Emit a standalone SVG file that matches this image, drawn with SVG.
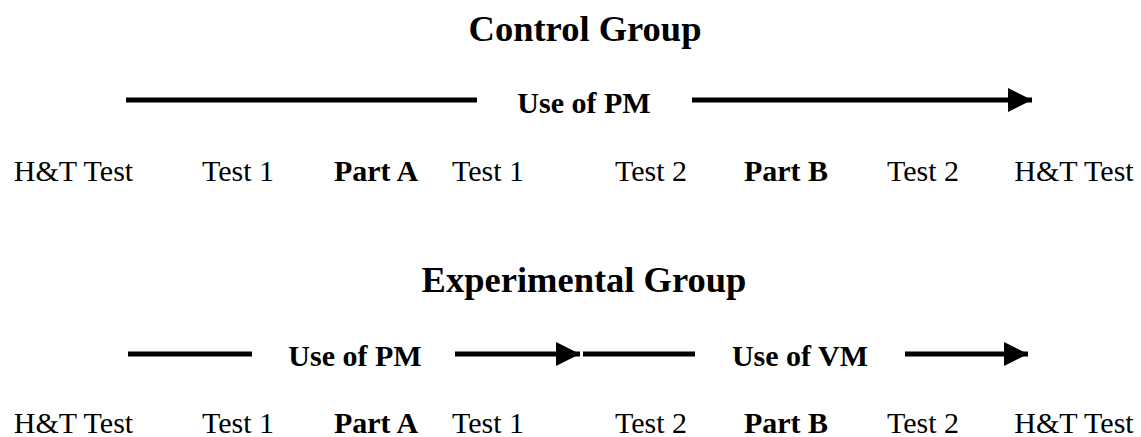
<svg xmlns="http://www.w3.org/2000/svg" width="1141" height="437" viewBox="0 0 1141 437">
<defs>
<style>
text{font-family:"Liberation Serif","Times New Roman",serif;fill:#000}
.title{font-size:36.5px;font-weight:bold;text-anchor:middle}
.lbl{font-size:30px;text-anchor:middle}
.b{font-weight:bold}
.use{font-size:30px;font-weight:bold;text-anchor:middle}
.ln{stroke:#000;stroke-width:5;fill:none}
</style>
<marker id="ah" viewBox="0 0 24 24" refX="24" refY="12" markerWidth="24" markerHeight="24" markerUnits="userSpaceOnUse" orient="auto">
<path d="M0,0 L24,12 L0,24 Z" fill="#000"/>
</marker>
</defs>
<rect width="1141" height="437" fill="#fff"/>
<g id="control-title"><text class="title" x="585" y="41">Control Group</text></g>
<g id="experimental-title"><text class="title" x="584" y="292">Experimental Group</text></g>
<g id="connectors">
<line class="ln" x1="126" y1="100" x2="477" y2="100"/>
<line class="ln" x1="692" y1="100" x2="1032" y2="100" marker-end="url(#ah)"/>
<line class="ln" x1="128" y1="354" x2="252" y2="354"/>
<line class="ln" x1="455" y1="354" x2="580" y2="354" marker-end="url(#ah)"/>
<line class="ln" x1="583" y1="354" x2="695" y2="354"/>
<line class="ln" x1="905" y1="354" x2="1028" y2="354" marker-end="url(#ah)"/>
</g>
<g id="use-pm-control"><text class="use" x="584" y="113">Use of PM</text></g>
<g id="use-pm-exp"><text class="use" x="355" y="366">Use of PM</text></g>
<g id="use-vm-exp"><text class="use" x="800" y="366">Use of VM</text></g>
<g id="control-row">
<text class="lbl" x="73.5" y="181">H&amp;T Test</text>
<text class="lbl" x="238" y="181">Test 1</text>
<text class="lbl b" x="376" y="181">Part A</text>
<text class="lbl" x="488" y="181">Test 1</text>
<text class="lbl" x="651" y="181">Test 2</text>
<text class="lbl b" x="786" y="181">Part B</text>
<text class="lbl" x="923" y="181">Test 2</text>
<text class="lbl" x="1074" y="181">H&amp;T Test</text>
</g>
<g id="experimental-row">
<text class="lbl" x="73.5" y="433">H&amp;T Test</text>
<text class="lbl" x="238" y="433">Test 1</text>
<text class="lbl b" x="376" y="433">Part A</text>
<text class="lbl" x="488" y="433">Test 1</text>
<text class="lbl" x="651" y="433">Test 2</text>
<text class="lbl b" x="786" y="433">Part B</text>
<text class="lbl" x="923" y="433">Test 2</text>
<text class="lbl" x="1074" y="433">H&amp;T Test</text>
</g>
</svg>
